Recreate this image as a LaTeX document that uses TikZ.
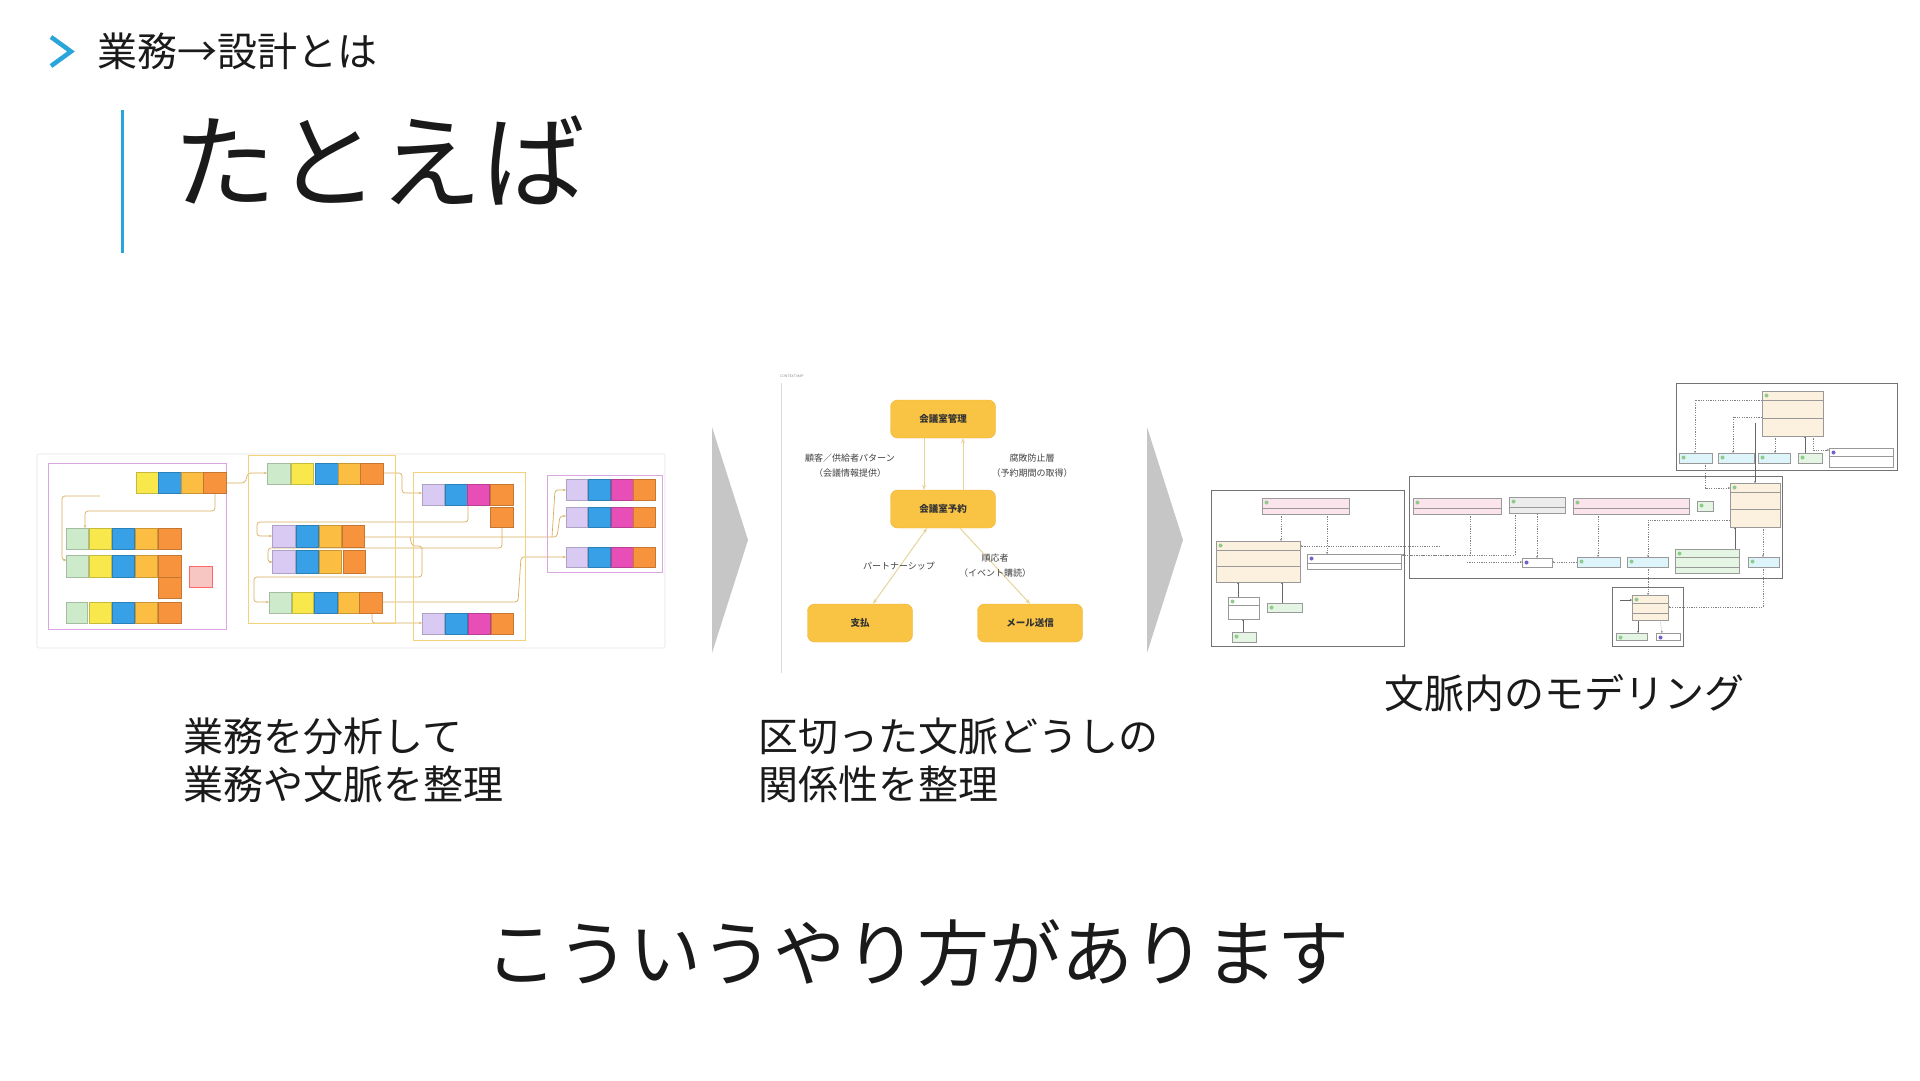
\documentclass[tikz,border=0pt]{standalone}
\usepackage{fontspec}
\setmainfont{Noto Sans CJK JP}
\usetikzlibrary{arrows.meta}
\definecolor{accent}{HTML}{2AA5DC}
\definecolor{ink}{HTML}{1A1A1A}
\definecolor{chev}{HTML}{C6C6C6}
\definecolor{ctxfill}{HTML}{F9C444}
\definecolor{ctxborder}{HTML}{EDB532}
\definecolor{ctxline}{HTML}{E6D49A}
\definecolor{sgreen}{HTML}{CDEBCB}
\definecolor{syellow}{HTML}{F8E84C}
\definecolor{sblue}{HTML}{37A0E6}
\definecolor{samber}{HTML}{FBBE42}
\definecolor{sorange}{HTML}{F6933C}
\definecolor{spurple}{HTML}{D9CAF3}
\definecolor{smagenta}{HTML}{E84FB6}
\definecolor{spink}{HTML}{F8C6C2}
\definecolor{sline}{HTML}{D9AE5E}
\definecolor{framepurple}{HTML}{D9A6E3}
\definecolor{frameyellow}{HTML}{F3D27A}
\definecolor{uent}{HTML}{FCF0DE}
\definecolor{upink}{HTML}{FCE4EC}
\definecolor{ucyan}{HTML}{DDF5FA}
\definecolor{ugreen}{HTML}{E5F5E3}
\definecolor{ugray}{HTML}{ECECEC}
\definecolor{uicon}{HTML}{8FCB8C}
\definecolor{uiconi}{HTML}{6E63C8}
\tikzset{
  crumbfont/.style={font=\fontsize{40}{48}\selectfont},
  bodytext/.style={anchor=west, inner sep=0pt, text=ink, font=\fontsize{40}{48}\selectfont},
  ctx/.style={draw=ctxborder, fill=ctxfill, rounded corners=7pt, minimum width=105pt, minimum height=38pt, inner sep=0pt, font=\fontsize{9.5}{11}\selectfont\bfseries, text=black!80},
  ctxlabel/.style={align=center, inner sep=0pt, text=black!75, font=\fontsize{9}{15}\selectfont},
  ctxarrow/.style={draw=ctxline, line width=1pt, -{Stealth[length=5pt,width=4pt]}},
  stk/.style={line width=0.3pt},
  sconn/.style={draw=sline, line width=0.7pt, rounded corners=3pt},
  pkg/.style={draw=black!55, line width=0.6pt},
  ubox/.style={draw=black!40, line width=0.3pt},
  udash/.style={draw=black!50, line width=0.35pt, dash pattern=on 1.2pt off 1.2pt, -{Stealth[length=2pt,width=2pt]}},
  usolid/.style={draw=black!60, line width=0.35pt, -{Stealth[length=2pt,width=2pt]}}
}
\newcommand{\stick}[5]{\filldraw[stk, fill=#5, draw=#5!80!black] (#1,#2) rectangle (#3,#4);}
\newcommand{\ucls}[6]{%
  \filldraw[ubox, fill=#5] (#1,#2) rectangle (#3,#4);
  \fill[#6] ({#1+4.5},{#2+4.5}) circle (2pt);}
\begin{document}
\begin{tikzpicture}[x=1pt,y=-1pt]
\useasboundingbox (0,0) rectangle (1920,1080);
\fill[white] (0,0) rectangle (1920,1080);

% ---------------- header
\draw[accent, line width=4.5pt, miter limit=10] (51,37) -- (71,51.5) -- (51,66);
\node[anchor=west, inner sep=0pt, text=ink, crumbfont] (crumb) at (97,51) {業務→設計とは};
\draw[accent, line width=3pt] (122,110) -- (122,253);
\node[anchor=west, inner sep=0pt, text=ink, font=\fontsize{103}{112}\selectfont] (title) at (173,161) {たとえば};

% ---------------- picture 1: event storming
\draw[black!10, line width=0.6pt, fill=white, rounded corners=2pt] (37,454) rectangle (665,648);
% connectors
\draw[sconn, -{Stealth[length=3pt]}] (226,483) -- (245,483) -- (248,473) -- (267,473);
\draw[sconn, -{Stealth[length=3pt]}] (215,493) -- (215,511) -- (85,511) -- (85,528);
\draw[sconn, -{Stealth[length=3pt]}] (100,496) -- (62,496) -- (62,560) -- (66,560);
\draw[sconn, -{Stealth[length=3pt]}] (383,473) -- (402,473) -- (402,493) -- (422,493);
\draw[sconn, -{Stealth[length=3pt]}] (468,505) -- (468,522) -- (257,522) -- (257,536) -- (272,536);
\draw[sconn, -{Stealth[length=3pt]}] (365,537) -- (557,537) -- (560,516) -- (566,516);
\draw[sconn, -{Stealth[length=3pt]}] (552,537) -- (555,490) -- (566,490);
\draw[sconn, -{Stealth[length=3pt]}] (502,527) -- (502,548) -- (268,548) -- (268,562) -- (272,562);
\draw[sconn, -{Stealth[length=3pt]}] (410,537) -- (412,546) -- (422,546) -- (422,577) -- (254,577) -- (254,602) -- (269,602);
\draw[sconn, -{Stealth[length=3pt]}] (382,602) -- (518,602) -- (521,557) -- (566,557);
\draw[sconn, -{Stealth[length=3pt]}] (372,613) -- (372,623) -- (422,623);
% frames
\draw[draw=framepurple, line width=0.7pt] (48,463) rectangle (226,629);
\draw[draw=frameyellow, line width=0.7pt] (248,455) rectangle (395,623);
\draw[draw=frameyellow, line width=0.7pt] (413,472) rectangle (525,640);
\draw[draw=framepurple, line width=0.7pt] (547,475) rectangle (662,572);
% left group
\stick{136}{472}{158}{493}{syellow}\stick{158}{472}{181}{493}{sblue}\stick{181}{472}{203}{493}{samber}\stick{203}{472}{226}{493}{sorange}
\stick{66}{528}{88}{549}{sgreen}\stick{89}{528}{111}{549}{syellow}\stick{112}{528}{134}{549}{sblue}\stick{135}{528}{157}{549}{samber}\stick{158}{528}{181}{549}{sorange}
\stick{66}{555}{88}{577}{sgreen}\stick{89}{555}{111}{577}{syellow}\stick{112}{555}{134}{577}{sblue}\stick{135}{555}{157}{577}{samber}\stick{158}{555}{181}{577}{sorange}
\stick{158}{577}{181}{598}{sorange}
\filldraw[stk, fill=spink, draw=red!60] (189,566) rectangle (212,587);
\stick{66}{602}{87}{623}{sgreen}\stick{89}{602}{111}{623}{syellow}\stick{112}{602}{134}{623}{sblue}\stick{135}{602}{157}{623}{samber}\stick{158}{602}{181}{623}{sorange}
% middle group
\stick{267}{463}{290}{484}{sgreen}\stick{291}{463}{313}{484}{syellow}\stick{315}{463}{338}{484}{sblue}\stick{338}{463}{360}{484}{samber}\stick{360}{463}{383}{484}{sorange}
\stick{272}{525}{295}{547}{spurple}\stick{296}{525}{318}{547}{sblue}\stick{319}{525}{341}{547}{samber}\stick{342}{525}{364}{547}{sorange}
\stick{272}{550}{295}{573}{spurple}\stick{296}{550}{318}{573}{sblue}\stick{319}{550}{341}{573}{samber}\stick{343}{550}{365}{573}{sorange}
\stick{269}{592}{291}{613}{sgreen}\stick{292}{592}{313}{613}{syellow}\stick{314}{592}{337}{613}{sblue}\stick{338}{592}{359}{613}{samber}\stick{359}{592}{382}{613}{sorange}
% third group
\stick{422}{484}{444}{505}{spurple}\stick{445}{484}{467}{505}{sblue}\stick{467}{484}{489}{505}{smagenta}\stick{490}{484}{513}{505}{sorange}
\stick{490}{507}{513}{527}{sorange}
\stick{422}{613}{444}{634}{spurple}\stick{445}{613}{467}{634}{sblue}\stick{468}{613}{490}{634}{smagenta}\stick{491}{613}{513}{634}{sorange}
% fourth group
\foreach \yy/\zz in {479/500, 507/527, 547/567}{
  \stick{566}{\yy}{587}{\zz}{spurple}\stick{588}{\yy}{610}{\zz}{sblue}\stick{611}{\yy}{633}{\zz}{smagenta}\stick{633}{\yy}{655}{\zz}{sorange}
}

% ---------------- chevrons
\fill[chev] (712,427) -- (748,540) -- (712,653) -- cycle;
\fill[chev] (1147,427) -- (1183,540) -- (1147,653) -- cycle;

% ---------------- picture 2: context map
\draw[black!15, line width=0.5pt] (781,383) -- (781,673);
\node[anchor=west, inner sep=0pt, text=black!45, font=\fontsize{3.5}{4}\selectfont] (cmtitle) at (780,376) {CONTEXT MAP};
\node[ctx] (mgmt) at (943,419) {会議室管理};
\node[ctx] (resv) at (943,509) {会議室予約};
\node[ctx] (pay) at (860,623) {支払};
\node[ctx] (mail) at (1030,623) {メール送信};
\draw[ctxarrow] ([xshift=-19pt]mgmt.south) -- ([xshift=-19pt]resv.north);
\draw[ctxarrow] ([xshift=20pt]resv.north) -- ([xshift=20pt]mgmt.south);
\draw[ctxarrow, {Stealth[length=5pt,width=4pt]}-{Stealth[length=5pt,width=4pt]}] ([xshift=-16pt]resv.south) -- ([xshift=13pt]pay.north);
\draw[ctxarrow] ([xshift=17pt]resv.south) -- (mail.north);
\node[ctxlabel] (l1) at (850,466) {顧客／供給者パターン\\（会議情報提供）};
\node[ctxlabel] (l2) at (1032,466) {腐敗防止層\\（予約期間の取得）};
\node[ctxlabel] (l3) at (899,566) {パートナーシップ};
\node[ctxlabel] (l4) at (995,566) {順応者\\（イベント購読）};

% ---------------- picture 3: UML
% packages
\draw[pkg] (1211,490) rectangle (1404,646);
\draw[pkg] (1409,476) rectangle (1782,578);
\draw[pkg] (1676,383) rectangle (1897,470);
\draw[pkg] (1612,587) rectangle (1683,646);
% connectors
\draw[udash] (1281,514) -- (1281,541);
\draw[udash] (1327,514) -- (1327,554);
\draw[udash] (1440,546) -- (1300,546);
\draw[udash] (1470,514) -- (1470,555) -- (1402,555);
\draw[udash] (1515,513) -- (1515,555) -- (1402,555);
\draw[udash] (1467,562) -- (1522,562);
\draw[udash] (1537,514) -- (1537,558);
\draw[udash] (1577,562) -- (1552,562);
\draw[udash] (1598,514) -- (1598,557);
\draw[udash] (1730,520) -- (1648,520) -- (1648,557);
\draw[udash] (1648,567) -- (1648,595);
\draw[usolid] (1735,549) -- (1735,527);
\draw[udash] (1763,527) -- (1763,557);
\draw[udash] (1763,567) -- (1763,607) -- (1668,607);
\draw[usolid] (1755,423) -- (1755,483);
\draw[udash] (1705,463) -- (1705,488) -- (1730,488);
\draw[udash] (1762,400) -- (1695,400) -- (1695,453);
\draw[udash] (1762,417) -- (1733,417) -- (1733,453);
\draw[udash] (1775,436) -- (1775,453);
\draw[usolid] (1805,453) -- (1805,436);
\draw[udash] (1813,436) -- (1813,450) -- (1829,450);
\draw[usolid] (1238,597) -- (1238,582);
\draw[usolid] (1282,603) -- (1282,582);
\draw[usolid] (1243,632) -- (1243,619);
\draw[usolid] (1638,620) -- (1638,633);
\draw[udash] (1660,620) -- (1662,633);
\draw[usolid] (1620,600) -- (1632,600);
% classes: management context
\ucls{1262}{498}{1349}{514}{upink}{uicon}
\draw[ubox] (1262,508) -- (1349,508);
\ucls{1216}{541}{1300}{582}{uent}{uicon}
\draw[ubox] (1216,550) -- (1300,550); \draw[ubox] (1216,566) -- (1300,566);
\ucls{1307}{554}{1401}{569}{white}{uiconi}
\draw[ubox] (1307,563) -- (1401,563);
\ucls{1228}{597}{1259}{619}{white}{uicon}
\draw[ubox] (1228,605) -- (1259,605);
\ucls{1267}{603}{1302}{612}{ugreen}{uicon}
\ucls{1232}{632}{1256}{642}{ugreen}{uicon}
% classes: reservation context
\ucls{1413}{498}{1501}{514}{upink}{uicon}
\draw[ubox] (1413,508) -- (1501,508);
\ucls{1509}{497}{1565}{513}{ugray}{uicon}
\draw[ubox] (1509,507) -- (1565,507);
\ucls{1573}{498}{1689}{514}{upink}{uicon}
\draw[ubox] (1573,508) -- (1689,508);
\ucls{1697}{501}{1713}{511}{ugreen}{uicon}
\ucls{1730}{483}{1780}{527}{uent}{uicon}
\draw[ubox] (1730,492) -- (1780,492); \draw[ubox] (1730,509) -- (1780,509);
\ucls{1522}{558}{1552}{567}{white}{uiconi}
\ucls{1577}{557}{1620}{567}{ucyan}{uicon}
\ucls{1627}{557}{1668}{567}{ucyan}{uicon}
\ucls{1675}{549}{1739}{573}{ugreen}{uicon}
\draw[ubox] (1675,557) -- (1739,557); \draw[ubox] (1675,567) -- (1739,567);
\ucls{1748}{557}{1779}{567}{ucyan}{uicon}
% classes: customer context
\ucls{1762}{391}{1823}{436}{uent}{uicon}
\draw[ubox] (1762,400) -- (1823,400); \draw[ubox] (1762,418) -- (1823,418);
\ucls{1679}{453}{1712}{463}{ucyan}{uicon}
\ucls{1718}{453}{1754}{463}{ucyan}{uicon}
\ucls{1758}{453}{1790}{463}{ucyan}{uicon}
\ucls{1798}{453}{1822}{463}{ugreen}{uicon}
\ucls{1829}{448}{1893}{467}{white}{uiconi}
\draw[ubox] (1829,456) -- (1893,456);
% classes: mail context
\ucls{1632}{595}{1668}{620}{uent}{uicon}
\draw[ubox] (1632,603) -- (1668,603); \draw[ubox] (1632,613) -- (1668,613);
\ucls{1616}{633}{1647}{640}{ugreen}{uicon}
\ucls{1656}{633}{1680}{640}{white}{uiconi}

% ---------------- captions
\node[bodytext] (c1a) at (183,736) {業務を分析して};
\node[bodytext] (c1b) at (183,784) {業務や文脈を整理};
\node[bodytext] (c2a) at (758,736) {区切った文脈どうしの};
\node[bodytext] (c2b) at (758,784) {関係性を整理};
\node[bodytext] (c3) at (1384,693) {文脈内のモデリング};
\node[anchor=west, inner sep=0pt, text=ink, font=\fontsize{72}{80}\selectfont] (msg) at (485,953) {こういうやり方があります};
\end{tikzpicture}
\end{document}
